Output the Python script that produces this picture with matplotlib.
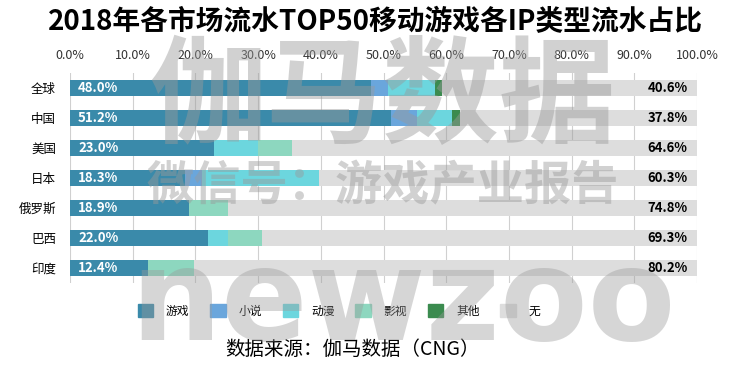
import numpy as np
import matplotlib.pyplot as plt
from matplotlib.patches import Patch

plt.rcParams['font.family'] = ['Noto Sans CJK SC', 'DejaVu Sans']

markets = ['全球', '中国', '美国', '日本', '俄罗斯', '巴西', '印度']
game = [48.0, 51.2, 23.0, 18.3, 18.9, 22.0, 12.4]
novel = [2.7, 4.1, 0.0, 2.7, 0.0, 0.0, 0.0]
anime = [7.5, 5.7, 7.0, 18.7, 0.0, 3.2, 0.0]
film = [0.0, 0.0, 5.4, 0.0, 6.3, 5.5, 7.4]
other = [1.2, 1.2, 0.0, 0.0, 0.0, 0.0, 0.0]
none_ = [40.6, 37.8, 64.6, 60.3, 74.8, 69.3, 80.2]

series = [('游戏', game, '#3a8aaa'), ('小说', novel, '#6aa6dc'),
          ('动漫', anime, '#6cd6de'), ('影视', film, '#8dd7bf'),
          ('其他', other, '#3b8b4f'), ('无', none_, '#dddddd')]

fig = plt.figure(figsize=(7.5, 3.72), dpi=100)
ax = fig.add_axes([70/750, 1-283/372, 627/750, 210/372])

y = np.arange(len(markets))
left = np.zeros(len(markets))
for name, vals, col in series:
    ax.barh(y, vals, left=left, height=0.54, color=col, zorder=2)
    left += np.array(vals)

for i in range(len(markets)):
    ax.text(1.3, y[i], '%.1f%%' % game[i], color='white', fontweight='bold',
            fontsize=9.5, va='center', ha='left', zorder=3)
    ax.text(98.5, y[i], '%.1f%%' % none_[i], color='black', fontweight='bold',
            fontsize=9.5, va='center', ha='right', zorder=3)

ax.set_xlim(0, 100)
ax.set_ylim(len(markets)-0.5, -0.5)
ax.set_yticks(y)
ax.set_yticklabels(markets, fontsize=9)
ax.set_xticks(np.arange(0, 101, 10))
ax.set_xticklabels(['%.1f%%' % v for v in range(0, 101, 10)], fontsize=9, color='#333333')
ax.xaxis.tick_top()
ax.tick_params(length=0, pad=8)
ax.tick_params(axis='y', pad=10)
ax.grid(axis='x', color='#d0d0d0', linewidth=0.8, zorder=0)
for s in ax.spines.values():
    s.set_visible(False)

fig.text(0.5, 1-22/372, '2018年各市场流水TOP50移动游戏各IP类型流水占比',
         ha='center', va='center', fontsize=20, fontweight='bold')

handles = [Patch(color=c, label=n) for n, v, c in series]
fig.legend(handles=handles, loc='center', bbox_to_anchor=(0.452, 1-311/372),
           ncol=6, frameon=False, fontsize=8.5, handlelength=1.3, handleheight=1.3,
           handletextpad=1.1, columnspacing=1.75)

fig.text(0.47, 1-349/372, '数据来源：伽马数据（CNG）', ha='center', va='center', fontsize=14)

# watermark
wm = '#9a9a9a'
fig.text(0.51, 1-100/372, '伽马数据', ha='center', va='center', fontsize=84,
         fontweight='bold', color=wm, alpha=0.45, zorder=10)
fig.text(0.51, 1-186/372, '微信号：游戏产业报告', ha='center', va='center', fontsize=34,
         fontweight='bold', color=wm, alpha=0.45, zorder=10)
fig.text(0.537, 1-340/372, 'newzoo', ha='center', va='baseline', fontsize=92,
         fontweight='bold', color=wm, alpha=0.4, zorder=10, family='DejaVu Sans')

fig.savefig('out.png', dpi=100)
